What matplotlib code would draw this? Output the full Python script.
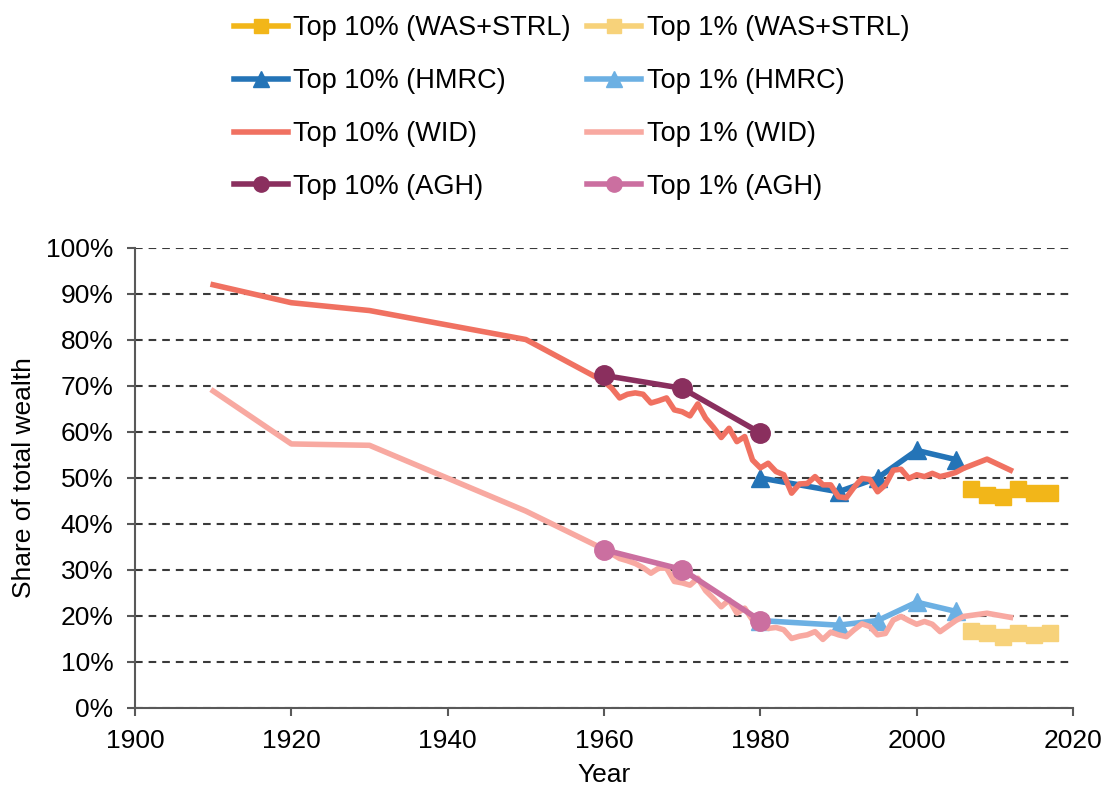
import matplotlib
matplotlib.use("Agg")
import matplotlib.pyplot as plt
import matplotlib.lines as mlines
from matplotlib.ticker import PercentFormatter, MultipleLocator

plt.rcParams['font.family'] = ['Liberation Sans', 'DejaVu Sans']
plt.rcParams['lines.scale_dashes'] = False

# ---- data ----
wid_years = [1910, 1920, 1930, 1950, 1960, 1961, 1962, 1963, 1964, 1965, 1966, 1967,
             1968, 1969, 1970, 1971, 1972, 1973, 1974, 1975, 1976, 1977, 1978, 1979,
             1980, 1981, 1982, 1983, 1984, 1985, 1986, 1987, 1988, 1989, 1990, 1991,
             1992, 1993, 1994, 1995, 1996, 1997, 1998, 1999, 2000, 2001, 2002, 2003,
             2004, 2005, 2006, 2009, 2012]
wid_top10 = [92.0, 88.1, 86.4, 80.1, 71.0, 69.5, 67.4, 68.2, 68.5, 68.2, 66.3, 66.8,
             67.4, 64.8, 64.4, 63.5, 66.1, 63.0, 61.0, 58.8, 60.8, 57.9, 59.0, 53.9,
             52.2, 53.2, 51.4, 50.7, 46.7, 48.7, 48.8, 50.3, 48.5, 48.5, 45.9, 45.7,
             48.0, 49.9, 49.7, 47.0, 48.5, 51.7, 51.9, 49.9, 50.7, 50.3, 51.0, 50.3,
             50.7, 51.2, 52.1, 54.1, 51.7]
wid_top1 = [68.9, 57.4, 57.1, 42.8, 34.5, 33.5, 32.5, 32.0, 31.4, 30.5, 29.3, 30.4,
            30.4, 27.5, 27.2, 26.7, 28.2, 25.5, 23.8, 22.0, 23.5, 20.6, 21.7, 19.1,
            18.0, 17.3, 17.5, 17.0, 15.1, 15.6, 15.9, 16.6, 14.9, 16.5, 15.9, 15.5,
            17.0, 18.3, 17.7, 15.9, 16.2, 19.1, 19.9, 19.0, 18.2, 18.8, 18.2, 16.6,
            17.8, 19.0, 19.9, 20.6, 19.7]

hmrc_years = [1980, 1990, 1995, 2000, 2005]
hmrc_top10 = [50.0, 47.0, 50.0, 56.0, 54.0]
hmrc_top1 = [19.0, 18.0, 19.0, 23.0, 21.0]

agh_years = [1960, 1970, 1980]
agh_top10 = [72.3, 69.5, 59.8]
agh_top1 = [34.4, 30.1, 19.0]

was_years = [2007, 2009, 2011, 2013, 2015, 2017]
was_top10 = [47.5, 46.3, 45.9, 47.5, 46.7, 46.7]
was_top1 = [16.8, 16.3, 15.4, 16.4, 15.9, 16.2]

labels = ['Top 10% (WAS+STRL)', 'Top 10% (HMRC)', 'Top 10% (WID)', 'Top 10% (AGH)',
          'Top 1% (WAS+STRL)', 'Top 1% (HMRC)', 'Top 1% (WID)', 'Top 1% (AGH)']

# ---- colours ----
c_was10, c_was1 = '#F2B619', '#F7D27A'
c_hm10, c_hm1 = '#2474B7', '#6CB0E3'
c_wid10, c_wid1 = '#F07161', '#F8A9A1'
c_agh10, c_agh1 = '#8A2F5E', '#CB6FA0'

fig = plt.figure(figsize=(11.03, 7.89), dpi=100)
ax = fig.add_axes([0.1224, 0.1027, 0.8504, 0.583])

lw = 4.0
fs = 19
ms_tri, ms_circ, ms_sq = 13, 14, 11.5

def pct(v):
    return [x / 100 for x in v]

ax.plot(hmrc_years, pct(hmrc_top10), color=c_hm10, lw=lw, marker='^', ms=ms_tri, zorder=3)
ax.plot(hmrc_years, pct(hmrc_top1), color=c_hm1, lw=lw, marker='^', ms=ms_tri, zorder=3)
ax.plot(wid_years, pct(wid_top10), color=c_wid10, lw=lw, zorder=4)
ax.plot(wid_years, pct(wid_top1), color=c_wid1, lw=lw, zorder=4)
ax.plot(agh_years, pct(agh_top10), color=c_agh10, lw=lw, marker='o', ms=ms_circ, zorder=5)
ax.plot(agh_years, pct(agh_top1), color=c_agh1, lw=lw, marker='o', ms=ms_circ, zorder=5)
ax.plot(was_years, pct(was_top10), color=c_was10, lw=0, marker='s', ms=ms_sq, zorder=5)
ax.plot(was_years, pct(was_top1), color=c_was1, lw=0, marker='s', ms=ms_sq, zorder=5)

ax.set_xlim(1900, 2020)
ax.set_ylim(0, 1.0)
ax.xaxis.set_major_locator(MultipleLocator(20))
ax.yaxis.set_major_locator(MultipleLocator(0.1))
ax.yaxis.set_major_formatter(PercentFormatter(1.0, decimals=0))

ax.grid(axis='y', color='#3a3a3a', lw=1.5, linestyle=(0, (5.5, 4.3)), zorder=1)
ax.set_axisbelow(True)
for s in ['top', 'right']:
    ax.spines[s].set_visible(False)
for s in ['left', 'bottom']:
    ax.spines[s].set_color('#595959')
    ax.spines[s].set_linewidth(1.5)
ax.tick_params(axis='both', direction='out', length=5.5, width=1.5, color='#595959',
               labelsize=fs, labelcolor='black')
ax.tick_params(axis='y', pad=10)
ax.tick_params(axis='x', pad=10)

ax.set_xlabel('Year', fontsize=fs, labelpad=7)
ax.set_ylabel('Share of total wealth', fontsize=fs, labelpad=7)

def lh(color, marker, ms):
    return mlines.Line2D([], [], color=color, lw=lw, marker=marker, ms=ms)

handles = [lh(c_was10, 's', 10), lh(c_hm10, '^', 11), lh(c_wid10, None, 0), lh(c_agh10, 'o', 11),
           lh(c_was1, 's', 10), lh(c_hm1, '^', 11), lh(c_wid1, None, 0), lh(c_agh1, 'o', 11)]
fig.legend(handles, labels, ncol=2, loc='upper center', bbox_to_anchor=(0.518, 1.008),
           frameon=False, fontsize=19.5, handlelength=2.0, handletextpad=0.2,
           columnspacing=0.6, labelspacing=0.99, borderpad=0.3)

fig.savefig('out.png', dpi=100)
